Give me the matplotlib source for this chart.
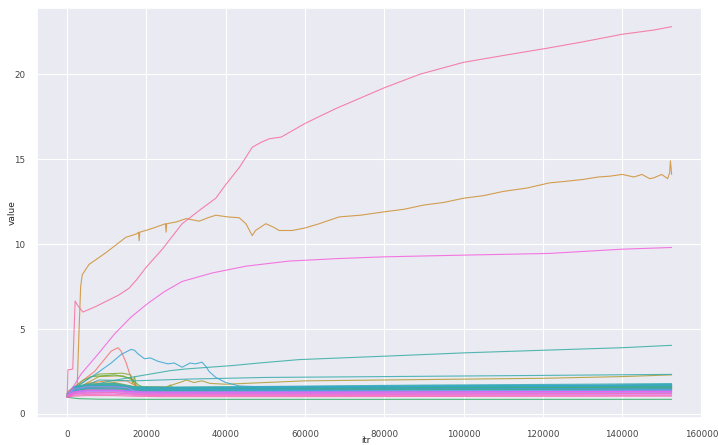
import matplotlib.pyplot as plt
import seaborn as sns

# 40 runs, each one coloured by its slot in a husl palette
n_runs = 40

# run that climbs the whole way (slot 39)
top_itr = [0, 170, 1000, 1400, 2000, 2600, 3950, 7000, 10000, 13000, 15600, 17500,
           19800, 24000, 29000, 34000, 37500, 40000, 43400, 46700, 49000, 51000,
           54000, 60000, 64400, 68000, 75000, 80000, 89000, 100000, 110000, 121600,
           130000, 140000, 148000, 152500]
top_val = [1.0, 2.6, 2.62, 2.65, 6.65, 6.4, 6.0, 6.3, 6.65, 7.0, 7.4, 7.9,
           8.6, 9.7, 11.2, 12.1, 12.7, 13.5, 14.5, 15.7, 16.0, 16.2,
           16.3, 17.1, 17.6, 18.0, 18.7, 19.2, 20.0, 20.7, 21.1, 21.55,
           21.9, 22.35, 22.6, 22.8]

# orange run with the dip near 47k (slot 5)
orange_itr = [0, 2500, 3000, 3400, 3800, 5500, 9800, 14800, 17500, 18000, 18150, 18300,
              20500, 22400, 24800, 24950, 25100, 27500, 30000, 33300, 35500, 37500,
              40500, 43400, 45100, 46000, 46700, 47500, 50100, 52000, 53500, 56800,
              60000, 63600, 68600, 74000, 80000, 85000, 90000, 95000, 100000, 105000,
              110000, 116000, 121600, 126000, 130000, 134000, 137000, 140000, 143000,
              145000, 147000, 148000, 150000, 151500, 152000, 152200, 152500]
orange_val = [1.2, 1.5, 5.0, 7.5, 8.2, 8.8, 9.5, 10.4, 10.6, 10.7, 10.2, 10.7,
              10.85, 11.0, 11.2, 10.7, 11.2, 11.3, 11.5, 11.35, 11.55, 11.7,
              11.6, 11.55, 11.2, 10.8, 10.5, 10.8, 11.2, 11.0, 10.8, 10.8,
              10.95, 11.2, 11.6, 11.7, 11.9, 12.05, 12.3, 12.45, 12.7, 12.85,
              13.1, 13.3, 13.6, 13.7, 13.8, 13.95, 14.0, 14.1, 13.95,
              14.1, 13.85, 13.9, 14.1, 13.85, 14.2, 14.9, 14.1]

# magenta run levelling off near 10 (slot 35)
magenta_itr = [0, 1000, 3500, 7700, 11900, 16100, 20300, 24500, 29000, 36600,
               45100, 56000, 68600, 80000, 100000, 121600, 140000, 152500]
magenta_val = [1.1, 1.4, 2.35, 3.5, 4.7, 5.7, 6.5, 7.2, 7.8, 8.3,
               8.7, 9.0, 9.15, 9.25, 9.35, 9.45, 9.7, 9.8]

# coral run peaking near 13k (slot 1)
coral_itr = [0, 3000, 6900, 11100, 12800, 13600, 14900, 15700, 16600, 17400,
             20000, 40000, 90000, 152500]
coral_val = [1.3, 1.8, 2.5, 3.7, 3.9, 3.7, 3.0, 2.4, 1.95, 1.65,
             1.5, 1.45, 1.5, 1.55]

# blue run with the noisy plateau (slot 25)
blue_itr = [0, 3000, 6900, 11100, 13600, 16100, 17000, 17800, 19500, 21000, 22900,
            25400, 27000, 29000, 31000, 32400, 34000, 35000, 35800, 37500, 40000,
            43400, 48400, 60000, 100000, 152500]
blue_val = [1.2, 1.7, 2.3, 3.0, 3.5, 3.8, 3.75, 3.55, 3.25, 3.3, 3.1,
            2.95, 3.0, 2.75, 3.0, 2.95, 3.05, 2.8, 2.5, 2.15, 1.85,
            1.65, 1.6, 1.6, 1.65, 1.7]

# teal runs (slots 20 and 21)
teal_hi_itr = [0, 5000, 10000, 16000, 26000, 30000, 41700, 48400, 58500, 80000,
               100500, 120000, 140000, 152500]
teal_hi_val = [1.2, 1.6, 1.9, 2.15, 2.55, 2.65, 2.85, 3.0, 3.2, 3.4,
               3.6, 3.75, 3.9, 4.04]
teal_lo_itr = [0, 8000, 17000, 30000, 50000, 80000, 120000, 152500]
teal_lo_val = [1.2, 2.0, 1.95, 2.05, 2.15, 2.2, 2.27, 2.33]

# olive run (slot 8)
olive_itr = [0, 8000, 14000, 16500, 17500, 20000, 25000, 29000, 30000, 32000,
             34000, 36000, 40000, 50000, 60000, 80000, 100000, 120000, 140000, 152500]
olive_val = [1.2, 2.2, 2.25, 2.0, 1.5, 1.6, 1.6, 1.9, 2.0, 1.85,
             1.95, 1.8, 1.75, 1.85, 1.95, 2.0, 2.05, 2.1, 2.2, 2.3]

# green runs that drop around 17k (slots 11 and 13)
green_a_itr = [0, 4000, 8000, 14000, 16000, 16500, 17000, 17500, 19000, 20000, 21000,
               23000, 25000, 26000, 27000, 30000, 33000, 35000, 40000, 60000, 100000, 152500]
green_a_val = [1.2, 2.0, 2.35, 2.4, 2.3, 1.8, 2.2, 1.5, 1.4, 1.6, 1.4,
               1.5, 1.45, 1.7, 1.45, 1.5, 1.55, 1.45, 1.5, 1.55, 1.6, 1.7]
green_b_itr = [0, 6000, 12000, 16000, 18000, 20000, 25000, 30000, 50000, 100000, 152500]
green_b_val = [1.2, 2.2, 2.3, 2.1, 1.7, 1.5, 1.55, 1.5, 1.5, 1.55, 1.65]

# early orange shoulder (slot 3) and purple shoulder (slot 30)
amber_itr = [0, 5000, 10000, 15000, 17000, 18000, 20000, 30000, 152500]
amber_val = [1.2, 1.8, 1.95, 1.95, 1.7, 1.4, 1.35, 1.4, 1.5]
purple_itr = [0, 1500, 5000, 12000, 15000, 17000, 19000, 30000, 80000, 152500]
purple_val = [1.05, 1.45, 1.6, 1.6, 1.55, 1.35, 1.25, 1.22, 1.23, 1.25]

# lowest run (slot 15)
floor_itr = [0, 1000, 3000, 8000, 20000, 152500]
floor_val = [1.0, 0.95, 0.9, 0.87, 0.86, 0.86]

# the flat bundle, all sampled on the same iterations
flat_itr = [0, 1500, 5000, 12000, 17000, 25000, 50000, 90000, 130000, 152500]
flat_slots = [0, 2, 4, 6, 7, 9, 10, 12, 14, 16, 17, 18, 19, 22, 23, 24,
              26, 27, 28, 29, 31, 32, 33, 34, 36, 37, 38]
flat_runs = [
    [1.0, 1.3, 1.45, 1.5, 1.35, 1.3, 1.3, 1.32, 1.35, 1.38],
    [1.05, 1.4, 1.55, 1.6, 1.45, 1.4, 1.42, 1.45, 1.48, 1.5],
    [1.1, 1.5, 1.65, 1.7, 1.5, 1.45, 1.48, 1.52, 1.55, 1.58],
    [1.0, 1.35, 1.5, 1.55, 1.4, 1.38, 1.4, 1.42, 1.45, 1.47],
    [1.1, 1.45, 1.7, 1.8, 1.55, 1.5, 1.52, 1.56, 1.6, 1.62],
    [1.05, 1.4, 1.6, 1.7, 1.45, 1.42, 1.45, 1.48, 1.5, 1.52],
    [1.1, 1.5, 1.75, 1.85, 1.6, 1.5, 1.5, 1.53, 1.56, 1.58],
    [1.0, 1.3, 1.4, 1.45, 1.3, 1.28, 1.3, 1.32, 1.35, 1.37],
    [1.05, 1.35, 1.5, 1.55, 1.4, 1.38, 1.4, 1.43, 1.45, 1.47],
    [1.1, 1.45, 1.6, 1.65, 1.5, 1.48, 1.5, 1.54, 1.58, 1.62],
    [1.05, 1.4, 1.55, 1.6, 1.45, 1.43, 1.45, 1.5, 1.53, 1.56],
    [1.1, 1.5, 1.65, 1.7, 1.55, 1.53, 1.56, 1.62, 1.66, 1.7],
    [1.15, 1.55, 1.7, 1.75, 1.58, 1.56, 1.6, 1.66, 1.7, 1.74],
    [1.15, 1.6, 1.75, 1.8, 1.6, 1.58, 1.62, 1.7, 1.75, 1.79],
    [1.1, 1.5, 1.6, 1.62, 1.5, 1.5, 1.53, 1.58, 1.62, 1.65],
    [1.1, 1.55, 1.65, 1.68, 1.55, 1.53, 1.56, 1.62, 1.66, 1.7],
    [1.05, 1.4, 1.5, 1.52, 1.42, 1.42, 1.45, 1.48, 1.5, 1.52],
    [1.0, 1.3, 1.4, 1.42, 1.35, 1.35, 1.37, 1.4, 1.42, 1.44],
    [1.0, 1.3, 1.38, 1.4, 1.32, 1.3, 1.32, 1.35, 1.37, 1.39],
    [1.0, 1.25, 1.35, 1.38, 1.28, 1.26, 1.28, 1.3, 1.32, 1.34],
    [1.0, 1.2, 1.3, 1.32, 1.22, 1.2, 1.2, 1.22, 1.24, 1.25],
    [1.0, 1.25, 1.35, 1.36, 1.25, 1.24, 1.25, 1.27, 1.29, 1.3],
    [0.98, 1.15, 1.22, 1.24, 1.15, 1.13, 1.13, 1.15, 1.16, 1.17],
    [1.0, 1.3, 1.4, 1.4, 1.3, 1.28, 1.28, 1.3, 1.32, 1.33],
    [0.98, 1.1, 1.15, 1.16, 1.1, 1.08, 1.08, 1.09, 1.1, 1.1],
    [1.0, 1.2, 1.25, 1.26, 1.18, 1.16, 1.16, 1.18, 1.2, 1.21],
    [0.97, 1.05, 1.08, 1.08, 1.04, 1.02, 1.02, 1.03, 1.04, 1.05],
]

# slot -> (itr, value) for every run
runs = {
    1: (coral_itr, coral_val),
    3: (amber_itr, amber_val),
    5: (orange_itr, orange_val),
    8: (olive_itr, olive_val),
    11: (green_a_itr, green_a_val),
    13: (green_b_itr, green_b_val),
    15: (floor_itr, floor_val),
    20: (teal_hi_itr, teal_hi_val),
    21: (teal_lo_itr, teal_lo_val),
    25: (blue_itr, blue_val),
    30: (purple_itr, purple_val),
    35: (magenta_itr, magenta_val),
    39: (top_itr, top_val),
}
for slot, vals in zip(flat_slots, flat_runs):
    runs[slot] = (flat_itr, vals)

sns.set_theme(style="darkgrid")
plt.rcParams["font.family"] = ["DejaVu Sans"]
plt.rcParams["grid.linewidth"] = 0.8

colors = sns.husl_palette(n_runs)

fig = plt.figure(figsize=(7.18, 4.45), dpi=100)
ax = fig.add_axes([0.0515, 0.0607, 0.926, 0.9213])

for slot in range(n_runs):
    x, y = runs[slot]
    ax.plot(x, y, color=colors[slot], lw=0.8, alpha=0.85)

ax.set_xlabel("itr", fontsize=6.2)
ax.set_ylabel("value", fontsize=6.5)
ax.xaxis.set_label_coords(0.494, -0.045)
ax.yaxis.set_label_coords(-0.031, 0.5)
ax.tick_params(labelsize=6.3, colors="#444444", pad=2.5)
ax.set_xticks(range(0, 160001, 20000))

fig.savefig("out.png", dpi=100)
